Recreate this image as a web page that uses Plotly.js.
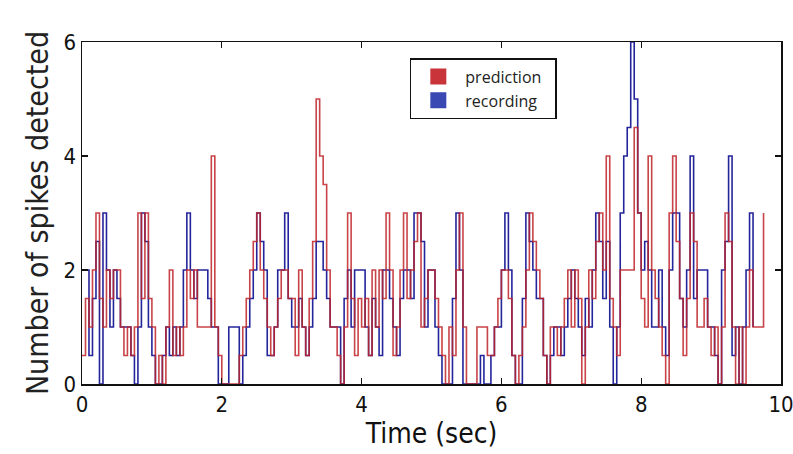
<!DOCTYPE html>
<html>
<head>
<meta charset="utf-8">
<script src="https://cdn.plot.ly/plotly-3.0.1.min.js"></script>
<style>html,body{margin:0;padding:0;background:#fff;}#chart{width:793px;height:454px;}</style>
</head>
<body>
<div id="chart"></div>
<script>
// Bin width (sec) of the spike-count step series
const binWidth = 0.05;
const startTime = 0;

// Predicted spike counts per bin (red)
const predictionCounts = [
  0.5,1.5,1,2,3,1.5,1,2,1.5,2,
  2,1,0.5,1,0.5,1,3,1.5,3,1.5,
  1,0,0.5,0,1,2,0.5,1,0.5,1,
  2,1.5,2,1,1,1,1,4,1,0.5,
  0,0,0,0,0,0.5,1,1.5,2,2.5,
  3,2,1.5,1,0.5,1,1.5,2,2,1.5,
  1.5,0.5,2,1,0.5,1.5,2.5,5,4,3.5,
  2,1,1,0.5,0,1,3,1.5,0.5,1.5,
  1,1.5,0.5,2,1,2,1.5,3,2,0.5,
  1,2,3,1.5,2,2.5,3,1,1.5,2,
  2,1.5,1,0.5,0,1,0.5,2,3,1,
  0,0,0,1,1,1,0.5,0.5,1,1.5,
  2,2,1.5,0.5,0,0.5,1,2,3,2.5,
  2,1.5,0.5,0,1,1,0.5,1,1.5,2,
  1,2,1.5,0,1,2,1.5,2.5,3,2,
  4,1.5,1,0.5,2,2,2,2,4.5,3,
  1.5,1,4,2,1.5,1,0.5,0,3,4,
  2.5,1.5,0.5,1.5,3,2.5,1,1,1.5,1,
  0.5,1,0,1,3,2.5,1,0,1,0,
  1,2,1,1,1,3
];

// Recorded spike counts per bin (blue)
const recordingCounts = [
  2,2,0.5,1.5,2.5,0,3,2,1,2,
  1.5,1,1,1,0.5,0,1,3,2.5,1,
  0.5,0,0,0.5,1,0.5,1,0.5,1,2,
  3,2,1.5,2,2,2,1.5,1,1,0,
  0,0,1,1,1,0,0.5,1,1.5,2,
  3,2.5,2,0.5,0.5,1,2,2,3,1.5,
  1,1,1.5,1,0.5,1,1.5,2.5,2.5,2,
  1.5,1,1,1,0,1.5,2,1,2,2,
  2,1,0.5,1.5,1,0.5,2,2,1.5,1,
  0.5,1.5,2,2,1.5,3,3,2.5,1,2,
  2,1,0.5,0,0,0,1.5,3,2,0,
  0,0,0,0,0.5,0,0,0.5,1,1,
  2,3,2,0.5,0,0,1.5,3,2.5,2,
  1.5,1.5,0.5,0,0.5,1,1,0.5,1,1.5,
  2,1.5,1,0.5,1.5,1,2,3,2.5,1.5,
  2.5,1,0,1,3,4,4.5,6,5,3,
  2,2.5,2,1,1,2,1,0.5,2,3,
  3,1.5,1,2,4,1.5,2,2,2,1,
  1,0.5,0,2,2.5,4,0.5,1,0,1,
  2,3,1
];

const seriesNames = ['prediction', 'recording'];
const seriesColors = ['rgba(190,35,40,0.85)', 'rgba(25,25,150,0.95)'];
const legendColors = ['#c8343a', '#3a48b4'];

const xTicks = [0, 2, 4, 6, 8, 10];
const yTicks = [0, 2, 4, 6];

const traces = [
  { type: 'scatter', mode: 'lines', name: seriesNames[1], y: recordingCounts,
    x0: startTime, dx: binWidth, line: { shape: 'hv', color: seriesColors[1], width: 1.6 },
    showlegend: false, hoverinfo: 'skip' },
  { type: 'scatter', mode: 'lines', name: seriesNames[0], y: predictionCounts,
    x0: startTime, dx: binWidth, line: { shape: 'hv', color: seriesColors[0], width: 1.6 },
    showlegend: false, hoverinfo: 'skip' },
  { type: 'scatter', mode: 'markers', name: seriesNames[0] + '\u00a0\u00a0', x: [null], y: [null],
    marker: { symbol: 'square', size: 19, color: legendColors[0] }, showlegend: true },
  { type: 'scatter', mode: 'markers', name: seriesNames[1] + '\u00a0\u00a0', x: [null], y: [null],
    marker: { symbol: 'square', size: 19, color: legendColors[1] }, showlegend: true }
];

const narrow = '"Liberation Sans Narrow", "Arial Narrow", "DejaVu Sans Condensed", sans-serif';

const layout = {
  width: 793, height: 454,
  margin: { l: 82, r: 12, t: 42, b: 70, pad: 0 },
  paper_bgcolor: '#ffffff', plot_bgcolor: '#ffffff',
  showlegend: true,
  legend: {
    x: 0.469, y: 0.953, xanchor: 'left', yanchor: 'top',
    bordercolor: '#111', borderwidth: 1.5, bgcolor: '#ffffff',
    font: { family: '"Open Sans", "Noto Sans", sans-serif', size: 16, color: '#222' },
    itemwidth: 44, tracegroupgap: 0
  },
  xaxis: {
    range: [0, 10], tickvals: xTicks, ticktext: xTicks.map(String),
    ticks: 'inside', ticklen: 6, tickwidth: 1.2, tickcolor: '#111',
    showline: true, linecolor: '#111', linewidth: 1.5, mirror: 'ticks',
    showgrid: false, zeroline: false, ticklabeloverflow: 'allow',
    tickfont: { family: narrow, size: 22, color: '#111' },
    title: { text: 'Time (sec)', font: { family: narrow, size: 28, color: '#111' }, standoff: 4 }
  },
  yaxis: {
    range: [0, 6], tickvals: yTicks, ticktext: yTicks.map(String),
    ticks: 'inside', ticklen: 6, tickwidth: 1.2, tickcolor: '#111',
    showline: true, linecolor: '#111', linewidth: 1.5, mirror: 'ticks',
    showgrid: false, zeroline: false, ticklabeloverflow: 'allow',
    tickfont: { family: narrow, size: 22, color: '#111' },
    title: { text: 'Number of spikes detected', font: { family: narrow, size: 30, color: '#222' }, standoff: 6 }
  }
};

Plotly.newPlot('chart', traces, layout, { staticPlot: true, displayModeBar: false });
</script>
</body>
</html>
